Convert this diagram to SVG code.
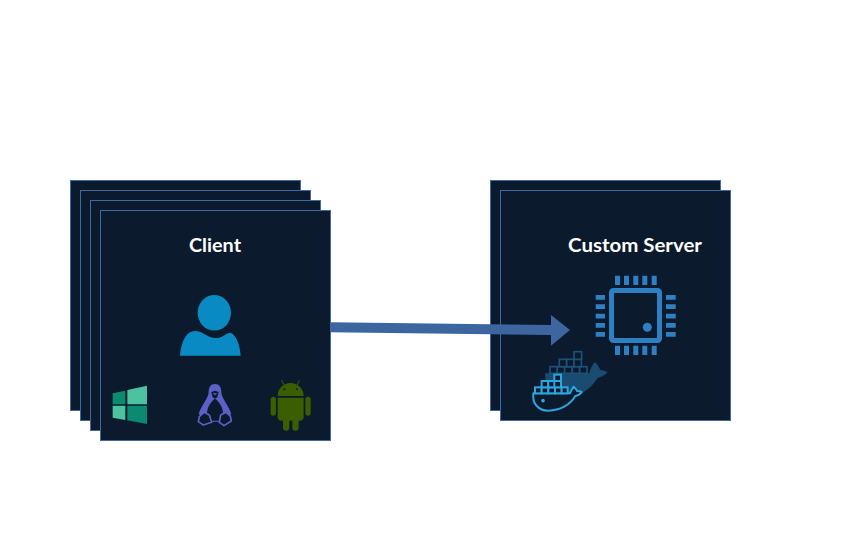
<svg xmlns="http://www.w3.org/2000/svg" width="850" height="540" viewBox="0 0 850 540">
<style>
.card{fill:#0b1a2d;stroke:#3d6aa8;stroke-width:1}
.t{font-family:"Comic Sans MS","Lato","Noto Sans",sans-serif;font-weight:700;font-size:18px;fill:#fff}
.pin{fill:#2f80c2}
.bk{fill:#0b1a2d;stroke:#1d5178;stroke-width:5}
.fr{fill:#0b1a2d;stroke:#2ba6e0;stroke-width:6}
</style>
<rect width="850" height="540" fill="#fff"/>
<g id="client">
<rect class="card" x="70.500" y="180.500" width="230" height="230"/>
<rect class="card" x="80.500" y="190.500" width="230" height="230"/>
<rect class="card" x="90.500" y="200.500" width="230" height="230"/>
<rect class="card" x="100.500" y="210.500" width="230" height="230"/>
<text class="t" x="189" y="252" textLength="52" lengthAdjust="spacingAndGlyphs">Client</text>
<g id="user" fill="#0a8ac3">
<ellipse cx="214.300" cy="312.800" rx="16.700" ry="17.800"/>
<path d="M180 355.700C181 342 186 331 195 331C203 331 207 338 216 338C224 338 226 332 231 333C236 335 240 345 240.700 355.700Z"/>
</g>
<g id="windows" transform="translate(100 370) scale(.3333)">
<path fill="#0b8a70" d="M38 70L76 62V103H38ZM82 107H141V162L82 151Z"/>
<path fill="#4cc2a0" d="M82 60L141 47V103H82ZM38 107H76V150L38 143Z"/>
</g>
<g id="linux" transform="translate(100 370) scale(.3333)">
<path fill="#5d60c8" d="M345 42C358 42 364 52 364 66C364 85 386 105 394 132L360 155H330L296 132C304 105 326 85 326 66C326 52 332 42 345 42Z"/>
<path fill="#0b1a2d" d="M345 86C331 96 321 114 321 130L333 152H358L369 130C369 114 359 96 345 86Z"/>
<path fill="#0b1a2d" d="M334 66L345 62L356 66L352 82L345 86L338 82Z"/>
<path fill="#5d60c8" d="M338 70H352L345 76Z"/>
<path fill="#0b1a2d" stroke="#5d60c8" stroke-width="5" stroke-linejoin="round" d="M312 127L328 135L335 157L310 165L295 155L298 140ZM378 127L362 135L358 157L372 167L394 153L391 138Z"/>
</g>
<g id="android" transform="translate(100 370) scale(.3333)" fill="#3b5e00">
<path d="M533 78A39 39 0 0 1 611 78Z"/>
<path d="M533 83H611V140Q611 152 599 152H545Q533 152 533 140Z"/>
<rect x="512" y="80" width="16" height="57" rx="8"/>
<rect x="616" y="80" width="16" height="57" rx="8"/>
<rect x="549" y="145" width="19" height="37" rx="9"/>
<rect x="577" y="145" width="19" height="37" rx="9"/>
<path stroke="#3b5e00" stroke-width="3" d="M552 45L545 30M592 45L598 30"/>
<circle cx="553" cy="58" r="3" fill="#0b1a2d"/>
<circle cx="591" cy="58" r="3" fill="#0b1a2d"/>
</g>
</g>
<g id="server">
<rect class="card" x="490.500" y="180.500" width="230" height="230"/>
<rect class="card" x="500.500" y="190.500" width="230" height="230"/>
<text class="t" x="568" y="252" textLength="134" lengthAdjust="spacingAndGlyphs">Custom Server</text>
<g id="chip">
<rect x="611.500" y="290.500" width="48" height="50" rx="2" fill="none" stroke="#2f80c2" stroke-width="5"/>
<circle cx="647.300" cy="327.300" r="4.500" class="pin"/>
<path class="pin" d="M615 275.700h5v9.300h-5zM624 275.700h5v9.300h-5zM633.300 275.700h5v9.300h-5zM642.300 275.700h5v9.300h-5zM651.700 275.700h5v9.300h-5zM615 345.700h5v9.300h-5zM624 345.700h5v9.300h-5zM633.300 345.700h5v9.300h-5zM642.300 345.700h5v9.300h-5zM651.700 345.700h5v9.300h-5zM595.700 295h9.300v4.700h-9.300zM595.700 304.300h9.300v4.700h-9.300zM595.700 313.700h9.300v4.700h-9.300zM595.700 323h9.300v4.700h-9.300zM595.700 332h9.300v4.700h-9.300zM666 295h9.700v4.700h-9.700zM666 304.300h9.700v4.700h-9.700zM666 313.700h9.700v4.700h-9.700zM666 323h9.700v4.700h-9.700zM666 332h9.700v4.700h-9.700z"/>
</g>
<g id="docker-back" transform="translate(520 340) scale(.3333)">
<path fill="#1a4b70" d="M75 100H208C210 88 216 75 225 66C234 75 239 85 241 90C249 90 257 93 263 97C253 108 241 112 233 114C215 142 190 162 160 170L100 172C85 150 76 125 75 100Z"/>
<g class="bk">
<rect x="90" y="80" width="22" height="20"/><rect x="112" y="80" width="22" height="20"/><rect x="134" y="80" width="23" height="20"/><rect x="157" y="80" width="22" height="20"/><rect x="179" y="80" width="22" height="20"/>
<rect x="118" y="58" width="22" height="22"/><rect x="140" y="58" width="22" height="22"/><rect x="162" y="58" width="22" height="22"/>
<rect x="162" y="35" width="23" height="23"/>
</g>
</g>
<g id="docker-front" transform="translate(520 340) scale(.3333)">
<path fill="#0b1a2d" stroke="#2ba6e0" stroke-width="6" stroke-linejoin="round" d="M40 160H150C153 152 157 145 161 140C166 145 170 150 171 153C176 153 182 154 185 156C180 164 172 167 166 168C150 195 120 212 85 212C55 212 36 190 40 160Z"/>
<g class="fr">
<rect x="45" y="142" width="20" height="18"/><rect x="65" y="142" width="20" height="18"/><rect x="85" y="142" width="20" height="18"/><rect x="105" y="142" width="20" height="18"/><rect x="125" y="142" width="18" height="18"/>
<rect x="65" y="123" width="20" height="19"/><rect x="85" y="123" width="20" height="19"/><rect x="103" y="123" width="20" height="19"/>
<rect x="103" y="104" width="20" height="19"/>
</g>
<circle cx="69" cy="182" r="5.500" fill="#2ba6e0"/>
</g>
</g>
<g id="connectors">
<path fill="#3d66a1" d="M330.700 322.300L551 325V315L570 330L551 345.700V335L330.700 332.300Z"/>
</g>
</svg>
